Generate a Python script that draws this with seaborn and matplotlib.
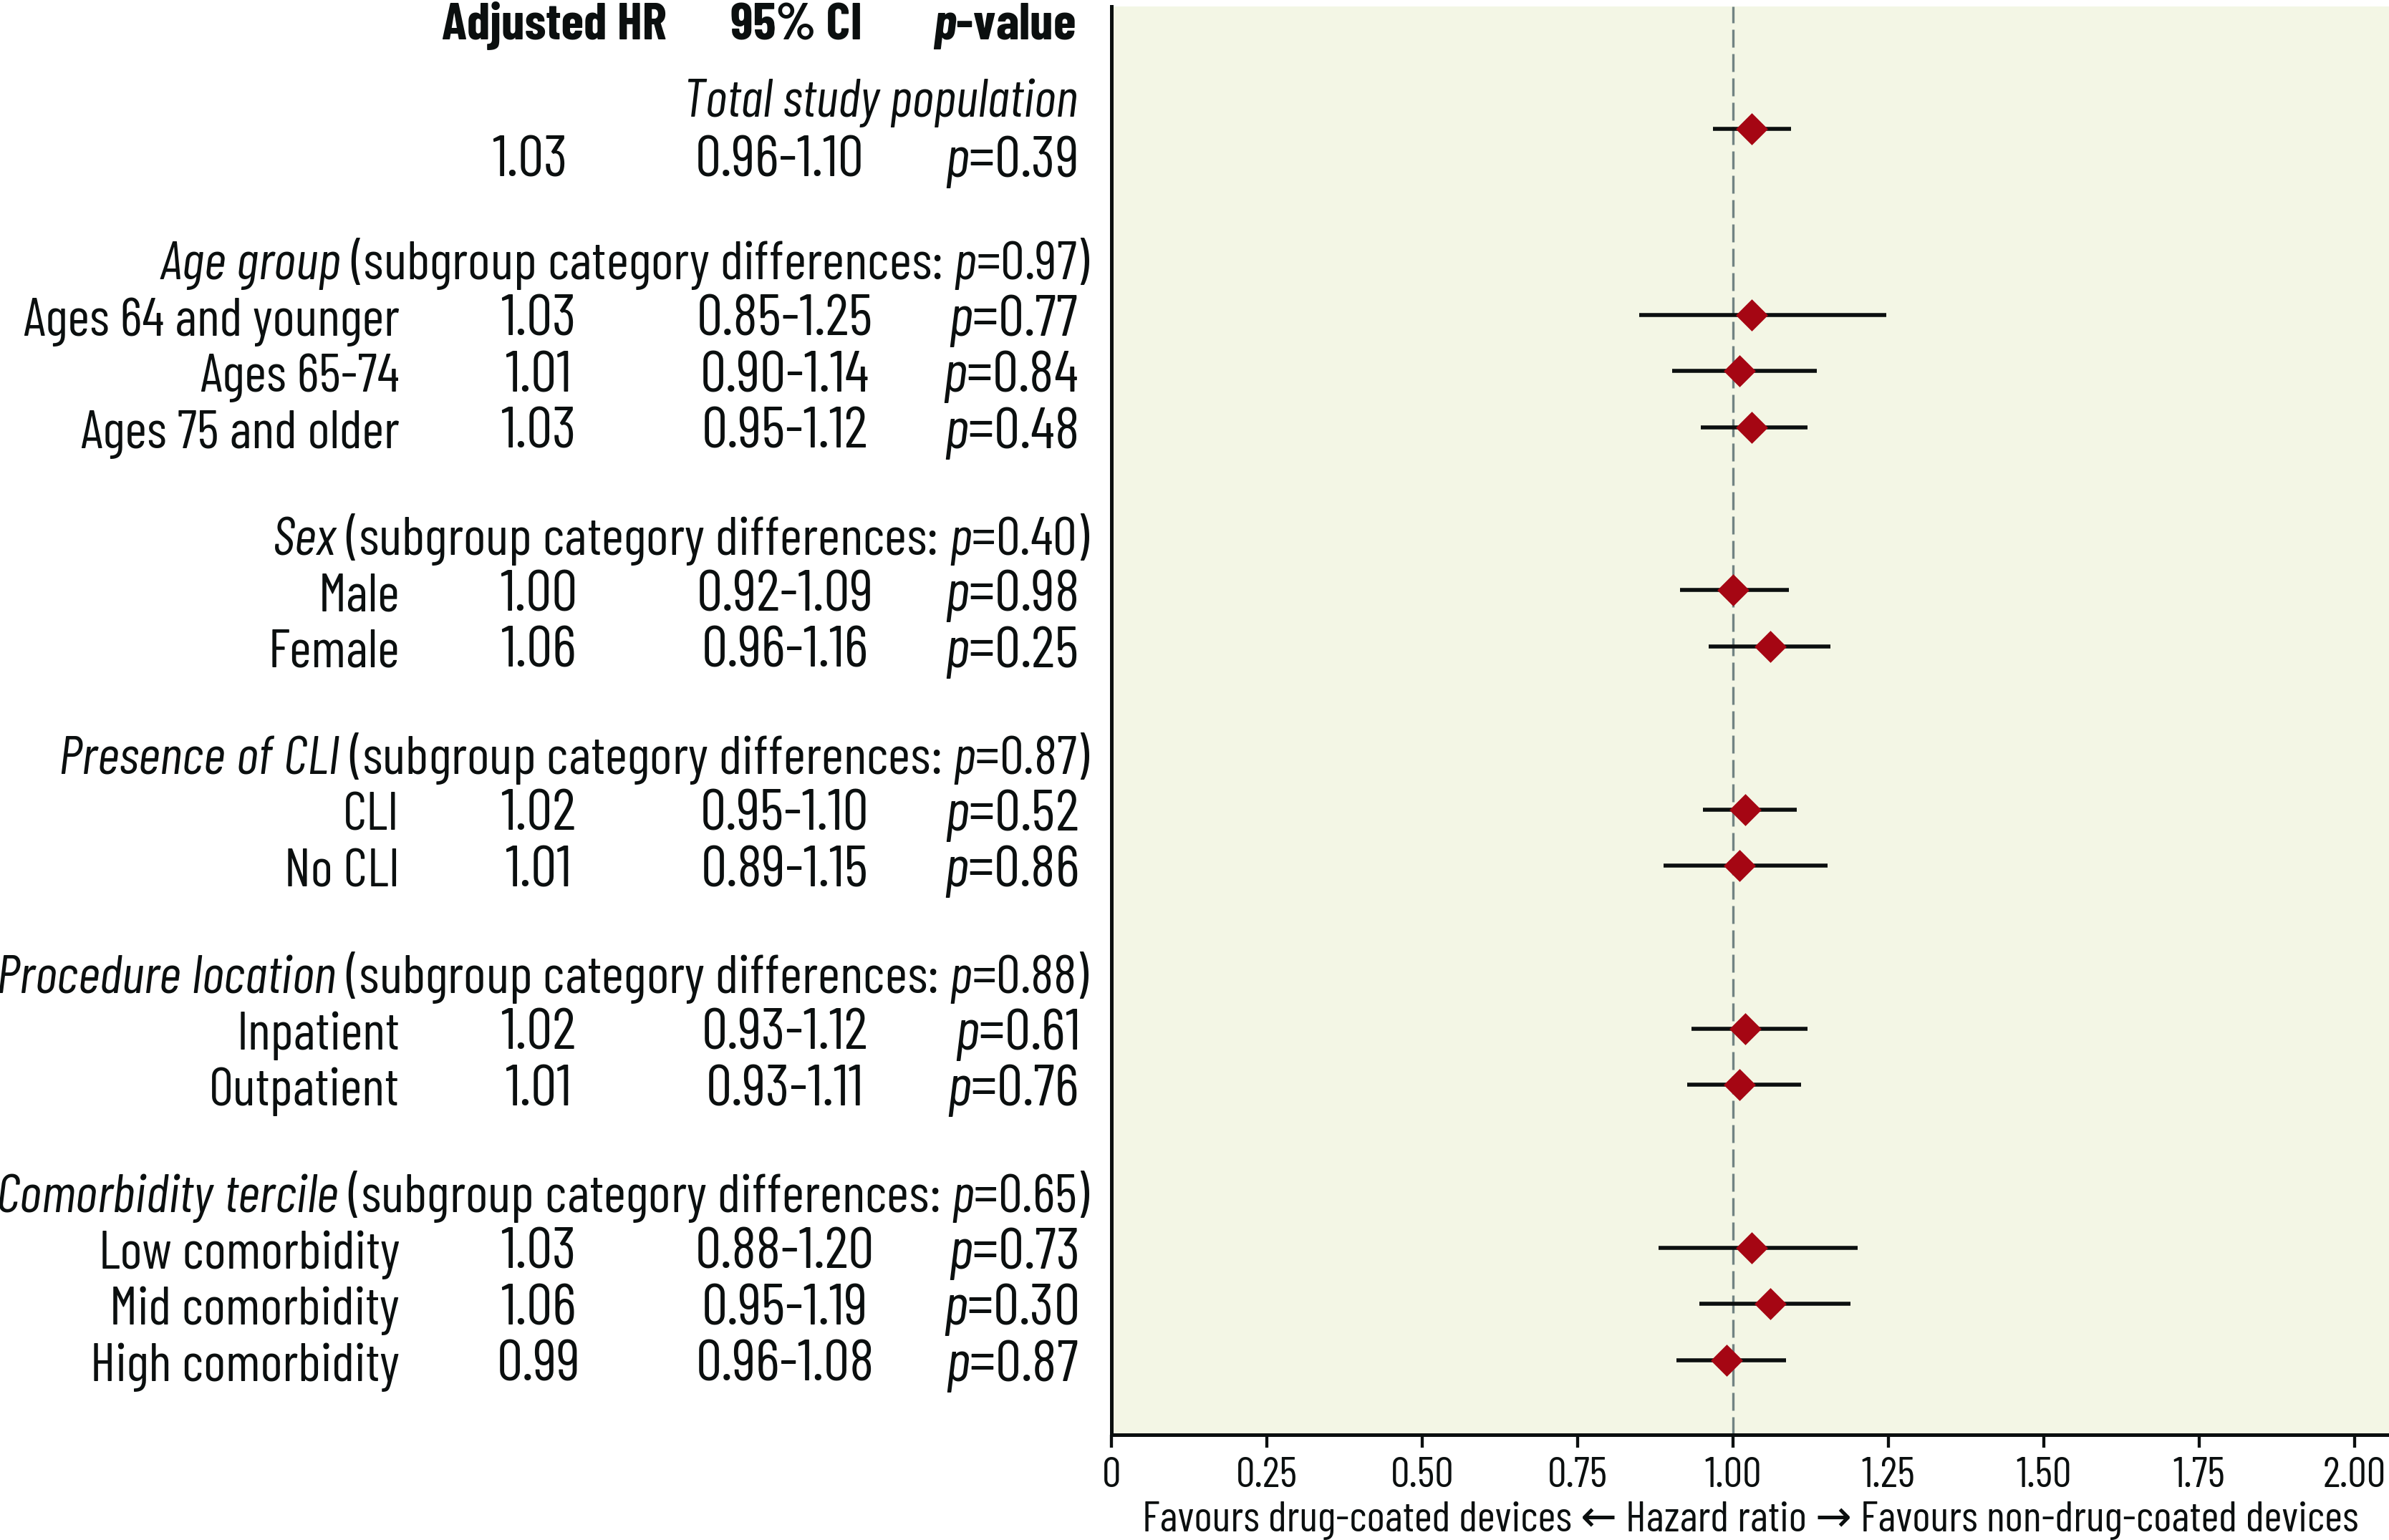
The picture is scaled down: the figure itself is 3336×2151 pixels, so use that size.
import matplotlib
matplotlib.use("Agg")
import matplotlib.pyplot as plt
import matplotlib.transforms as mtransforms
from matplotlib import font_manager
import seaborn as sns
import pandas as pd

# ---- data ----
total_label = "Total study population"
total_hr = 1.03
total_lo = 0.968
total_hi = 1.093
total_hr_text = "1.03"
total_ci_text = "0.96-1.10"
total_p_text = "0.39"

groups = ["Age group", "Sex", "Presence of CLI", "Procedure location", "Comorbidity tercile"]
group_p = ["0.97", "0.40", "0.87", "0.88", "0.65"]
group_sizes = [3, 2, 2, 2, 3]

subgroups = ["Ages 64 and younger", "Ages 65-74", "Ages 75 and older",
             "Male", "Female",
             "CLI", "No CLI",
             "Inpatient", "Outpatient",
             "Low comorbidity", "Mid comorbidity", "High comorbidity"]
hr = [1.03, 1.01, 1.03, 1.00, 1.06, 1.02, 1.01, 1.02, 1.01, 1.03, 1.06, 0.99]
ci_lo = [0.849, 0.902, 0.948, 0.915, 0.961, 0.952, 0.888, 0.933, 0.926, 0.880, 0.946, 0.909]
ci_hi = [1.246, 1.135, 1.120, 1.090, 1.157, 1.103, 1.152, 1.120, 1.109, 1.201, 1.189, 1.085]
hr_text = ["1.03", "1.01", "1.03", "1.00", "1.06", "1.02", "1.01", "1.02", "1.01", "1.03", "1.06", "0.99"]
ci_text = ["0.85-1.25", "0.90-1.14", "0.95-1.12", "0.92-1.09", "0.96-1.16", "0.95-1.10",
           "0.89-1.15", "0.93-1.12", "0.93-1.11", "0.88-1.20", "0.95-1.19", "0.96-1.08"]
p_text = ["0.77", "0.84", "0.48", "0.98", "0.25", "0.52", "0.86", "0.61", "0.76", "0.73", "0.30", "0.87"]

x_ticks = [0, 0.25, 0.5, 0.75, 1.0, 1.25, 1.5, 1.75, 2.0]
x_tick_labels = ["0", "0.25", "0.50", "0.75", "1.00", "1.25", "1.50", "1.75", "2.00"]
x_label = "Favours drug-coated devices \u2190 Hazard ratio \u2192 Favours non-drug-coated devices"
col_headers = ["Adjusted HR", "95% CI", "$\\mathbfit{p}$-value"]

# ---- style ----
BG = "#F3F6E5"
RED = "#A50613"
INK = "#0B0F0F"
DASH = "#718383"

sns.set_theme(style="white")
names = {f.name for f in font_manager.fontManager.ttflist}
fam = next(f for f in ["Barlow Condensed", "Fira Sans Extra Condensed", "Roboto Condensed",
                       "Liberation Sans"] if f in names)
plt.rcParams["font.family"] = [fam, "DejaVu Sans"]
plt.rcParams["mathtext.fontset"] = "custom"
plt.rcParams["mathtext.rm"] = fam
plt.rcParams["mathtext.it"] = fam + ":italic"
plt.rcParams["mathtext.bf"] = fam + ":bold"
plt.rcParams["mathtext.bfit"] = fam + ":italic:bold"

W, H = 3337, 2151
fig = plt.figure(figsize=(W / 100, H / 100), dpi=100)
renderer = fig.canvas.get_renderer()


def fit_size(s, target_px, **kw):
    # font size that makes string s about target_px wide
    t = fig.text(0, 0, s, fontsize=40, **kw)
    w = t.get_window_extent(renderer).width
    t.remove()
    return 40 * target_px / w


FS = fit_size("Ages 64 and younger", 525)
FS_VAL = fit_size("0.85-1.25", 246)
FS_GRP = fit_size("$\\mathit{Age\\ group}$ (subgroup category differences: $\\mathit{p}$=0.97)", 1300)
FS_HEAD = fit_size("Adjusted HR", 314, fontweight="bold")
FS_TSP = fit_size(total_label, 551, style="italic")
FS_TICK = fit_size("0.25", 86)
FS_XLAB = fit_size(x_label, 1698)

# ---- row layout ----
first_row = 3.31
group_step = 2.9
rows_y, header_y = [], []
y = first_row
for n in group_sizes:
    header_y.append(y - 1)
    for i in range(n):
        rows_y.append(y)
        y += 1
    y += group_step - 1

df = pd.DataFrame({
    "label": [total_label] + subgroups,
    "hr": [total_hr] + hr,
    "lo": [total_lo] + ci_lo,
    "hi": [total_hi] + ci_hi,
    "y": [0.0] + rows_y,
})

ax = fig.add_axes([1552 / W, 1 - 2004 / H, 1 - 1552 / W, (2004 - 9) / H])
ax.set_facecolor(BG)

ax.axvline(1.0, color=DASH, lw=2.4, dashes=(7.5, 2.7), zorder=1)
ax.hlines(df["y"], df["lo"], df["hi"], color=INK, lw=4.0, zorder=2)
sns.scatterplot(data=df, x="hr", y="y", marker="D", s=520, color=RED,
                linewidth=0, zorder=3, ax=ax, legend=False)

ax.set_xlim(0, 2.0565)
ax.set_ylim(23.24, -2.18)
ax.set_yticks([])
ax.set_ylabel("")
ax.set_xticks(x_ticks)
ax.set_xticklabels(x_tick_labels)
ax.set_xlabel(x_label, fontsize=FS_XLAB, labelpad=6, color=INK)
ax.tick_params(axis="x", bottom=True, length=13, width=3.1, pad=9,
               labelsize=FS_TICK, color=INK, labelcolor=INK)
for side in ["top", "right"]:
    ax.spines[side].set_visible(False)
for side in ["left", "bottom"]:
    ax.spines[side].set_linewidth(3.6)
    ax.spines[side].set_color(INK)

# ---- table text left of the axes ----
tr = mtransforms.blended_transform_factory(fig.transFigure, ax.transData)
fx = lambda px: px / W
base = 0.37


def put(px, yy, s, ha, size, **kw):
    ax.text(fx(px), yy, s, transform=tr, ha=ha, va="baseline", fontsize=size,
            color=INK, clip_on=False, **kw)


put(774, -1.59, col_headers[0], "center", FS_HEAD, fontweight="bold")
put(1112, -1.59, col_headers[1], "center", FS_HEAD, fontweight="bold")
put(1502, -1.59, col_headers[2], "right", FS_HEAD, fontweight="bold")

put(1505, -0.22, total_label, "right", FS_TSP, style="italic")
put(740, 0.85, total_hr_text, "center", FS_VAL)
put(1089, 0.85, total_ci_text, "center", FS_VAL)
put(1503, 0.85, "$\\mathit{p}$=" + total_p_text, "right", FS_VAL)

for g, p, yy in zip(groups, group_p, header_y):
    s = "$\\mathit{" + g.replace(" ", "\\ ") + "}$ (subgroup category differences: $\\mathit{p}$=" + p + ")"
    put(1522, yy + base, s, "right", FS_GRP)

for lab, h, c, p, yy in zip(subgroups, hr_text, ci_text, p_text, rows_y):
    put(558, yy + base, lab, "right", FS)
    put(752, yy + base, h, "center", FS_VAL)
    put(1096, yy + base, c, "center", FS_VAL)
    put(1505, yy + base, "$\\mathit{p}$=" + p, "right", FS_VAL)

fig.savefig("out.png", dpi=100, facecolor="white")
